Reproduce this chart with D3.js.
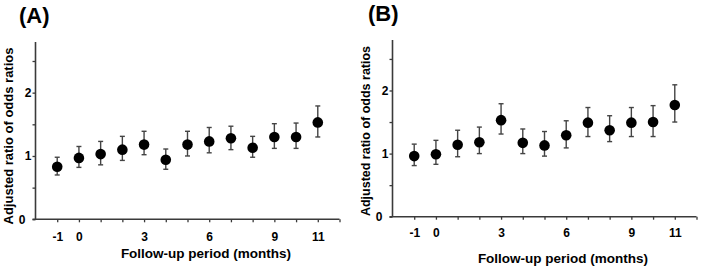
<!DOCTYPE html>
<html><head><meta charset="utf-8">
<script src="https://cdn.jsdelivr.net/npm/d3@7"></script>
<style>
body{margin:0;background:#fff;}
svg{display:block;font-family:"Liberation Sans",Arial,sans-serif;font-weight:bold;}
</style></head>
<body><svg id="c" width="713" height="267"></svg>
<script>
const months = [-1,0,1,2,3,4,5,6,7,8,9,10,11];
const xTickLabels = [-1,0,3,6,9,11];
const yTickLabels = [0,1,2];
const yTicks = [0,0.5,1,1.5,2,2.5];
const xTicks = [-1,0,1,2,3,4,5,6,7,8,9,10,11,12];

const aOR = [0.83,0.97,1.03,1.10,1.18,0.94,1.18,1.23,1.28,1.13,1.30,1.30,1.53];
const aLo = [0.70,0.82,0.86,0.93,1.02,0.79,1.00,1.05,1.10,0.98,1.12,1.12,1.30];
const aHi = [0.98,1.15,1.23,1.31,1.39,1.11,1.39,1.45,1.47,1.31,1.51,1.52,1.79];

const bOR = [0.96,0.99,1.14,1.18,1.53,1.17,1.13,1.29,1.49,1.37,1.49,1.50,1.77];
const bLo = [0.81,0.83,0.95,1.00,1.31,1.00,0.96,1.09,1.27,1.19,1.27,1.27,1.50];
const bHi = [1.15,1.21,1.37,1.42,1.79,1.39,1.35,1.52,1.73,1.60,1.73,1.76,2.09];

const svg = d3.select("#c");
const axisColor = "#3a3a3a";

function panel(cfg){
  const g = svg.append("g");
  const x = d3.scaleLinear().domain([-2,12]).range([cfg.x0, cfg.x1]);
  const y = d3.scaleLinear().domain([0,2.8]).range([cfg.y0, cfg.y1]);

  const ya = g.append("g").attr("transform",`translate(${cfg.x0},0)`)
    .call(d3.axisLeft(y).tickValues(yTicks).tickSize(3).tickSizeOuter(0)
      .tickFormat(d => yTickLabels.includes(d) ? d : ""));
  ya.select(".domain").attr("stroke",axisColor).attr("stroke-width",1.6).attr("d",`M0,${cfg.y0}V${cfg.y1}`);
  ya.selectAll(".tick line").attr("stroke",axisColor).attr("stroke-width",1.3);
  ya.selectAll(".tick text").attr("font-size",12).attr("font-weight","bold").attr("fill","#000")
    .attr("font-family","Liberation Sans, Arial, sans-serif")
    .attr("x", d => d===0 ? -10 : -4);

  const xa = g.append("g").attr("transform",`translate(0,${cfg.y0})`)
    .call(d3.axisBottom(x).tickValues(xTicks).tickSize(3).tickSizeOuter(0)
      .tickFormat(d => xTickLabels.includes(d) ? d : ""));
  xa.select(".domain").attr("stroke",axisColor).attr("stroke-width",1.6).attr("d",`M${cfg.x0-3},0H${cfg.x1}`);
  xa.selectAll(".tick line").attr("stroke",axisColor).attr("stroke-width",1.3);
  xa.selectAll(".tick text").attr("font-size",12).attr("font-weight","bold").attr("fill","#000")
    .attr("font-family","Liberation Sans, Arial, sans-serif")
    .attr("y", cfg.tickLabelDy).attr("dy","0");

  const eb = g.append("g").attr("stroke","#444").attr("stroke-width",1.4);
  months.forEach((m,i)=>{
    const cx = x(m);
    eb.append("line").attr("x1",cx).attr("x2",cx).attr("y1",y(cfg.lo[i])).attr("y2",y(cfg.hi[i]));
    eb.append("line").attr("x1",cx-2.5).attr("x2",cx+2.5).attr("y1",y(cfg.lo[i])).attr("y2",y(cfg.lo[i]));
    eb.append("line").attr("x1",cx-2.5).attr("x2",cx+2.5).attr("y1",y(cfg.hi[i])).attr("y2",y(cfg.hi[i]));
  });
  g.append("g").selectAll("circle").data(months).join("circle")
    .attr("cx",d=>x(d)).attr("cy",(d,i)=>y(cfg.or[i])).attr("r",5.3).attr("fill","#000");

  g.append("text").attr("x",cfg.titleX).attr("y",cfg.titleY).attr("text-anchor","middle")
    .attr("font-size",13.5).text("Follow-up period (months)");
  g.append("text").attr("transform",`translate(${cfg.yTitleX},${cfg.yTitleY}) rotate(-90)`)
    .attr("text-anchor","middle").attr("font-size",cfg.yTitleSize).text("Adjusted ratio of odds ratios");
  g.append("text").attr("x",cfg.labX).attr("y",cfg.labY).attr("font-size",22).text(cfg.label);
}

panel({x0:35.5,x1:339.5,y0:219.3,y1:42,or:aOR,lo:aLo,hi:aHi,tickLabelDy:22,
  titleX:206,titleY:258,yTitleX:13,yTitleY:136,yTitleSize:13,labX:19,labY:23,label:"(A)"});
panel({x0:392.5,x1:696.5,y0:216.7,y1:40,or:bOR,lo:bLo,hi:bHi,tickLabelDy:20,
  titleX:563,titleY:263,yTitleX:370,yTitleY:131,yTitleSize:12.5,labX:368,labY:21,label:"(B)"});
</script></body></html>
